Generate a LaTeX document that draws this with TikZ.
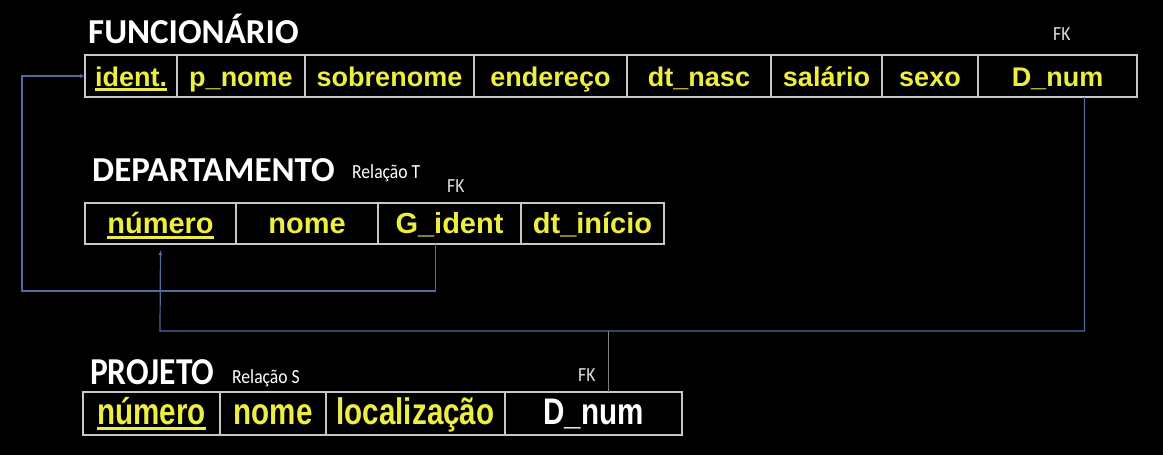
\documentclass[tikz,border=0pt]{standalone}
\usepackage{fontspec}
\setmainfont{Liberation Sans}
\newfontfamily\titlefont{Carlito}
\newfontfamily\narrowfont[FakeStretch=0.8]{Liberation Sans}
\newfontfamily\narrowtitlefont[FakeStretch=0.88]{Carlito}
\usetikzlibrary{positioning}
\usetikzlibrary{arrows.meta}

\definecolor{fieldyellow}{RGB}{238,238,64}
\definecolor{gridgray}{RGB}{200,200,200}
\definecolor{linkblue}{RGB}{78,108,156}
\definecolor{fkgray}{RGB}{225,225,225}

% primary key: thick underline in the text colour
\newcommand{\pk}[1]{\setbox0=\hbox{#1}\rlap{\rule[-5pt]{\wd0}{2.6pt}}\box0}

\begin{document}
\begin{tikzpicture}[x=1pt,y=-1pt,
    cell/.style={draw=gridgray,line width=1.5pt,inner sep=0pt,outer sep=0pt,
        text=fieldyellow,text height=23pt,text depth=3pt},
    funcell/.style={cell,minimum height=42pt,font=\fontsize{27}{30}\selectfont\bfseries},
    depcell/.style={cell,minimum height=41pt,font=\fontsize{29}{32}\selectfont\bfseries},
    projcell/.style={cell,minimum height=43pt,text height=25pt,text depth=3pt,
        font=\narrowfont\bfseries\fontsize{37}{40}\selectfont},
    title/.style={text=white,anchor=base west,inner sep=0pt,
        font=\titlefont\bfseries\fontsize{35}{40}\selectfont},
    note/.style={text=white,anchor=base west,inner sep=0pt,
        font=\narrowtitlefont\fontsize{20}{22}\selectfont},
    fk/.style={text=fkgray,anchor=base west,inner sep=0pt,
        font=\narrowtitlefont\fontsize{20}{22}\selectfont},
    link/.style={draw=linkblue,line width=1.2pt}]

\fill[black] (0,0) rectangle (1163,455);
\useasboundingbox (0,0) rectangle (1163,455);

% FUNCIONARIO
\node[title] (tfun) at (88,43) {FUNCIONÁRIO};
\node[fk] (fkfun) at (1053,40) {FK};
\node[funcell,minimum width=92,anchor=west] (f1) at (85,76) {\pk{ident.}};
\node[funcell,minimum width=128,right=0pt of f1] (f2) {p\_nome};
\node[funcell,minimum width=169,right=0pt of f2] (f3) {sobrenome};
\node[funcell,minimum width=153,right=0pt of f3] (f4) {endereço};
\node[funcell,minimum width=144,right=0pt of f4] (f5) {dt\_nasc};
\node[funcell,minimum width=111,right=0pt of f5] (f6) {salário};
\node[funcell,minimum width=96,right=0pt of f6] (f7) {sexo};
\node[funcell,minimum width=159,right=0pt of f7] (f8) {D\_num};

% DEPARTAMENTO
\node[title] (tdep) at (92,181) {DEPARTAMENTO};
\node[note] (rdep) at (352,178) {Relação T};
\node[fk] (fkdep) at (447,192) {FK};
\node[depcell,minimum width=151,anchor=west] (d1) at (85,223.5) {\pk{número}};
\node[depcell,minimum width=142,right=0pt of d1] (d2) {nome};
\node[depcell,minimum width=143,right=0pt of d2] (d3) {G\_ident};
\node[depcell,minimum width=143,right=0pt of d3] (d4) {dt\_início};

% PROJETO
\node[title,font=\narrowtitlefont\bfseries\fontsize{38}{40}\selectfont] (tproj) at (90,384) {PROJETO};
\node[note] (rproj) at (232,383) {Relação S};
\node[fk] (fkproj) at (578,381) {FK};
\node[projcell,minimum width=137,anchor=west] (p1) at (83,413.5) {\pk{número}};
\node[projcell,minimum width=106,right=0pt of p1] (p2) {nome};
\node[projcell,minimum width=179,right=0pt of p2] (p3) {localização};
\node[projcell,minimum width=177,right=0pt of p3,text=white] (p4) {D\_num};

% chaves estrangeiras
\coordinate (c1) at (22,291);
\coordinate (c2) at (160,331);
\draw[link,-{Latex[length=5pt,width=4pt]}] ([xshift=-14pt]d3.south) |- (c1) |- (f1.west);
\draw[link,shorten >=6pt,-{Latex[length=5pt,width=4pt]}] ([xshift=27pt]f8.south) |- (c2) -- (d1.south);
\draw[link,draw=gray] ([xshift=15pt]p4.north) -- ([xshift=15pt]p4.north |- c2);

\end{tikzpicture}
\end{document}
